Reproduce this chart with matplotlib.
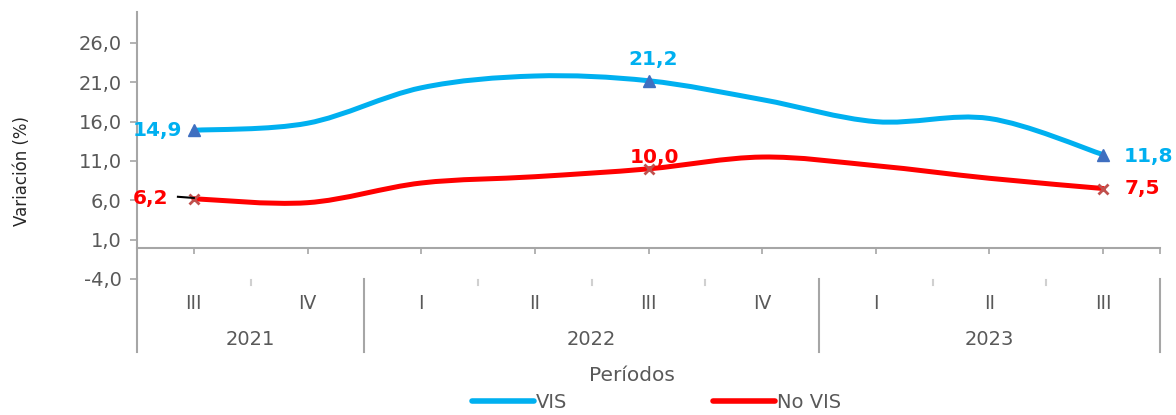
import matplotlib
matplotlib.use("Agg")
import matplotlib.pyplot as plt
from matplotlib.path import Path
from matplotlib.patches import PathPatch
from matplotlib.lines import Line2D

# Datos
trimestres = ["III", "IV", "I", "II", "III", "IV", "I", "II", "III"]
anios = ["2021", "2022", "2023"]
anio_limites = [0, 2, 6, 9]  # límites de grupo en índices de categoría
vis = [14.9, 15.8, 20.3, 21.8, 21.2, 18.8, 16.0, 16.4, 11.8]
no_vis = [6.2, 5.7, 8.2, 9.0, 10.0, 11.5, 10.4, 8.8, 7.5]
etiquetados = [0, 4, 8]  # puntos con marcador y etiqueta
y_ticks = [-4, 1, 6, 11, 16, 21, 26]

AZUL = "#00B0F0"
ROJO = "#FF0000"
GRIS = "#A6A6A6"
TEXTO = "#595959"

x = [i + 0.5 for i in range(len(trimestres))]


# curva suavizada tipo Excel (Bezier con puntos de control Catmull-Rom)
def ruta_suave(xs, ys):
    pts = list(zip(xs, ys))
    n = len(pts)
    verts = [pts[0]]
    codes = [Path.MOVETO]
    for i in range(n - 1):
        p0 = pts[i - 1] if i > 0 else pts[i]
        p1 = pts[i]
        p2 = pts[i + 1]
        p3 = pts[i + 2] if i + 2 < n else pts[i + 1]
        c1 = (p1[0] + (p2[0] - p0[0]) / 6, p1[1] + (p2[1] - p0[1]) / 6)
        c2 = (p2[0] - (p3[0] - p1[0]) / 6, p2[1] - (p3[1] - p1[1]) / 6)
        verts += [c1, c2, p2]
        codes += [Path.CURVE4] * 3
    return Path(verts, codes)


fig = plt.figure(figsize=(11.76, 4.15), dpi=100)
ax = fig.add_axes([137 / 1176, 1 - 279 / 415, 1023 / 1176, 267.5 / 415])

ax.add_patch(PathPatch(ruta_suave(x, vis), fill=False, edgecolor=AZUL, lw=3.6,
                       capstyle="round", zorder=3))
ax.add_patch(PathPatch(ruta_suave(x, no_vis), fill=False, edgecolor=ROJO, lw=3.6,
                       capstyle="round", zorder=3))

ax.plot([x[i] for i in etiquetados], [vis[i] for i in etiquetados], ls="none",
        marker="^", ms=9, color="#3F6FC0", zorder=4)
ax.plot([x[i] for i in etiquetados], [no_vis[i] for i in etiquetados], ls="none",
        marker="x", ms=7, mew=2, color="#C0504D", zorder=4)

# etiquetas de datos
fmt = lambda v: f"{v:.1f}".replace(".", ",")
pos_vis = [(-12, 0, "right"), (5, 21, "center"), (21, -2, "left")]
pos_no = [(-26, 0, "right"), (6, 11, "center"), (21, 0, "left")]
for k, i in enumerate(etiquetados):
    dx, dy, ha = pos_vis[k]
    ax.annotate(fmt(vis[i]), (x[i], vis[i]), xytext=(dx, dy), textcoords="offset pixels",
                ha=ha, va="center", color=AZUL, fontsize=14.5, fontweight="bold", zorder=5)
    dx, dy, ha = pos_no[k]
    ax.annotate(fmt(no_vis[i]), (x[i], no_vis[i]), xytext=(dx, dy), textcoords="offset pixels",
                ha=ha, va="center", color=ROJO, fontsize=14.5, fontweight="bold", zorder=5)
# línea guía de la etiqueta 6,2
ax.plot([x[0] - 0.14, x[0]], [no_vis[0] + 0.25, no_vis[0] + 0.1], color="black", lw=1.5, zorder=4)

ax.set_xlim(0, len(trimestres))
ax.set_ylim(-4, 30)
ax.set_yticks(y_ticks)
ax.set_yticklabels([fmt(v) for v in y_ticks])
ax.tick_params(axis="y", direction="out", length=5, width=1.2, color=GRIS,
               labelcolor=TEXTO, labelsize=14, pad=6)

ax.spines["top"].set_visible(False)
ax.spines["right"].set_visible(False)
ax.spines["left"].set_color(GRIS)
ax.spines["left"].set_linewidth(1.5)
ax.spines["bottom"].set_position(("data", 0))
ax.spines["bottom"].set_color(GRIS)
ax.spines["bottom"].set_linewidth(1.5)
ax.set_xticks(x + [len(trimestres)])
ax.set_xticklabels([])
ax.tick_params(axis="x", direction="out", length=4, width=1.2, color=GRIS)

# tabla de etiquetas de categorías (dos niveles)
tr = ax.get_xaxis_transform()
for b in anio_limites:
    ax.plot([b, b], [0, -0.273], transform=tr, color=GRIS, lw=1.5, clip_on=False)
for b in range(1, len(trimestres)):
    if b not in anio_limites:
        ax.plot([b, b], [-0.004, -0.024], transform=tr, color="#D0D0D0", lw=1.5, clip_on=False)
for xi, t in zip(x, trimestres):
    ax.text(xi, -0.09, t, transform=tr, ha="center", va="center", color=TEXTO, fontsize=13.5)
for k, a in enumerate(anios):
    centro = (anio_limites[k] + anio_limites[k + 1]) / 2
    ax.text(centro, -0.228, a, transform=tr, ha="center", va="center", color=TEXTO, fontsize=14)

ax.text(0.484, -0.36, "Períodos", transform=ax.transAxes, ha="center", va="center",
        color=TEXTO, fontsize=14.5)
fig.text(22 / 1176, 1 - 171 / 415, "Variación (%)", rotation=90, ha="center", va="center",
         color="#262626", fontsize=12, family=["Liberation Sans Narrow", "DejaVu Sans"])

handles = [Line2D([], [], color=AZUL, lw=4, solid_capstyle="round"),
           Line2D([], [], color=ROJO, lw=4, solid_capstyle="round")]
ax.legend(handles, ["VIS", "No VIS"], ncol=2, frameon=False, loc="center",
          bbox_to_anchor=(0.508, -0.46), handlelength=3.2, handletextpad=0.1,
          columnspacing=7.5, fontsize=14, labelcolor=TEXTO)

fig.savefig("out.png", dpi=100)
